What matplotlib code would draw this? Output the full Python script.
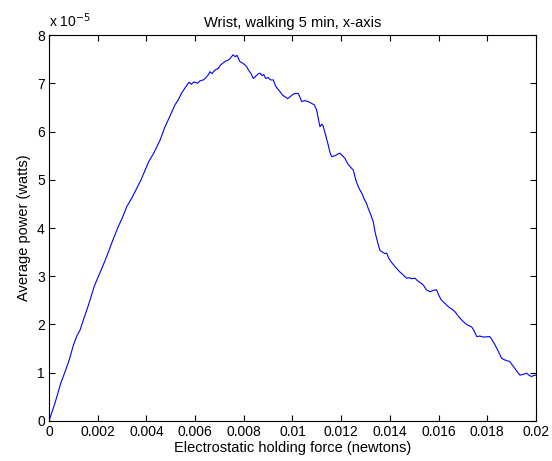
import numpy as np
import matplotlib
matplotlib.use("Agg")
import matplotlib.pyplot as plt
from matplotlib.ticker import FixedLocator

# holding force (x 1e-3 N) and average power (x 1e-5 W)
force_mN = [
    0, 0.25, 0.48, 0.68, 0.85, 1.0, 1.13, 1.27, 1.45, 1.65, 1.85, 2.03, 2.2,
    2.4, 2.6, 2.82,
    3.0, 3.2, 3.4, 3.6, 3.78, 3.95, 4.1, 4.3, 4.56, 4.75, 4.95, 5.17, 5.3, 5.45,
    5.66, 5.75, 5.85, 5.95, 6.1, 6.2, 6.34, 6.45, 6.55, 6.61, 6.7, 6.8, 6.95,
    7.05, 7.15, 7.25, 7.36, 7.45, 7.56, 7.65, 7.72, 7.84, 7.95, 8.05, 8.12, 8.2,
    8.3, 8.39, 8.5, 8.6, 8.67, 8.75, 8.82, 8.9, 9.0, 9.1, 9.21, 9.3, 9.4, 9.5,
    9.6, 9.7, 9.8, 9.9, 10.0, 10.1, 10.24, 10.3, 10.38, 10.5, 10.65, 10.8, 10.9,
    10.99, 11.05, 11.13, 11.2, 11.25, 11.35, 11.47, 11.55, 11.61, 11.75, 11.85,
    11.95, 12.05, 12.16, 12.25, 12.35, 12.5, 12.6, 12.7, 12.77, 12.85, 12.95,
    13.05, 13.11, 13.2, 13.32, 13.4, 13.5, 13.59, 13.7, 13.8, 13.87, 13.95,
    14.05, 14.21, 14.3, 14.41, 14.5, 14.6, 14.69, 14.8, 14.9, 15.03, 15.15,
    15.31, 15.4, 15.5, 15.65, 15.8, 15.92, 16.0, 16.1, 16.19, 16.3, 16.45, 16.6,
    16.7, 16.8, 16.9, 17.02, 17.15, 17.36, 17.45, 17.57, 17.7, 17.85, 18.11,
    18.2, 18.32, 18.45, 18.59, 18.7, 18.93, 19.05, 19.15, 19.34, 19.5, 19.62,
    19.72, 19.82, 19.9, 20.0,
]
power_e5 = [
    0, 0.38, 0.78, 1.05, 1.3, 1.57, 1.75, 1.88, 2.15, 2.45, 2.78, 3.0, 3.2,
    3.45, 3.72, 4.0,
    4.2, 4.45, 4.62, 4.82, 5.0, 5.2, 5.38, 5.55, 5.82, 6.08, 6.3, 6.55, 6.65, 6.8,
    6.96, 7.02, 6.98, 7.03, 7.0, 7.05, 7.07, 7.12, 7.18, 7.24, 7.2, 7.27, 7.31,
    7.38, 7.42, 7.46, 7.48, 7.52, 7.59, 7.55, 7.58, 7.45, 7.42, 7.38, 7.34, 7.27,
    7.2, 7.1, 7.15, 7.2, 7.21, 7.16, 7.18, 7.1, 7.12, 7.07, 7.07, 6.95, 6.88, 6.82,
    6.75, 6.72, 6.68, 6.72, 6.76, 6.79, 6.79, 6.72, 6.62, 6.64, 6.62, 6.58, 6.55,
    6.45, 6.3, 6.1, 6.15, 6.13, 5.95, 5.72, 5.55, 5.48, 5.5, 5.53,
    5.55, 5.5, 5.44, 5.35, 5.28, 5.2, 5.0, 4.86, 4.79, 4.72, 4.6,
    4.5, 4.41, 4.3, 4.13, 3.9, 3.7, 3.54, 3.5, 3.47, 3.48, 3.38,
    3.3, 3.2, 3.15, 3.09, 3.05, 3.0, 2.96, 2.97, 2.95, 2.96, 2.9,
    2.85, 2.8, 2.72, 2.68, 2.71, 2.72, 2.62, 2.52, 2.47, 2.42, 2.35, 2.3,
    2.25, 2.18, 2.12, 2.06, 2.0, 1.95, 1.88, 1.75, 1.76, 1.74, 1.75,
    1.68, 1.58, 1.45, 1.3, 1.27, 1.23, 1.15, 1.08, 0.95, 0.97, 0.99,
    0.95, 0.92, 0.94, 0.95,
]
xticks = [0, 0.002, 0.004, 0.006, 0.008, 0.01, 0.012, 0.014, 0.016, 0.018, 0.02]
xtick_labels = ["0", "0.002", "0.004", "0.006", "0.008", "0.01", "0.012",
                "0.014", "0.016", "0.018", "0.02"]
yticks = [0, 1, 2, 3, 4, 5, 6, 7, 8]

plt.rcParams["font.family"] = ["Liberation Sans", "DejaVu Sans"]
plt.rcParams["font.size"] = 10

fig = plt.figure(figsize=(5.52, 4.61), dpi=100)
ax = fig.add_axes([0.0888, 0.0868, 0.882, 0.8372])

x = np.array(force_mN) * 1e-3
ax.plot(x, power_e5, color="#0000ff", lw=0.8)

ax.set_xlim(0, 0.02)
ax.set_ylim(0, 8)
ax.xaxis.set_major_locator(FixedLocator(xticks))
ax.set_xticklabels(xtick_labels)
ax.yaxis.set_major_locator(FixedLocator(yticks))
ax.set_yticklabels([str(v) for v in yticks])
ax.tick_params(direction="in", length=4, width=0.8, top=True, right=True,
               colors="black", pad=3, labelsize=10)
for s in ax.spines.values():
    s.set_linewidth(0.8)

ax.text(0.0, 1.012, r"x 10$^{-5}$", transform=ax.transAxes,
        ha="left", va="bottom", fontsize=10)
ax.set_title("Wrist, walking 5 min, x-axis", fontsize=10.5, pad=6)
ax.set_xlabel("Electrostatic holding force (newtons)", fontsize=10.5,
              labelpad=1)
ax.set_ylabel("Average power (watts)", fontsize=10.5, labelpad=4)

fig.savefig("out.png", dpi=100)
